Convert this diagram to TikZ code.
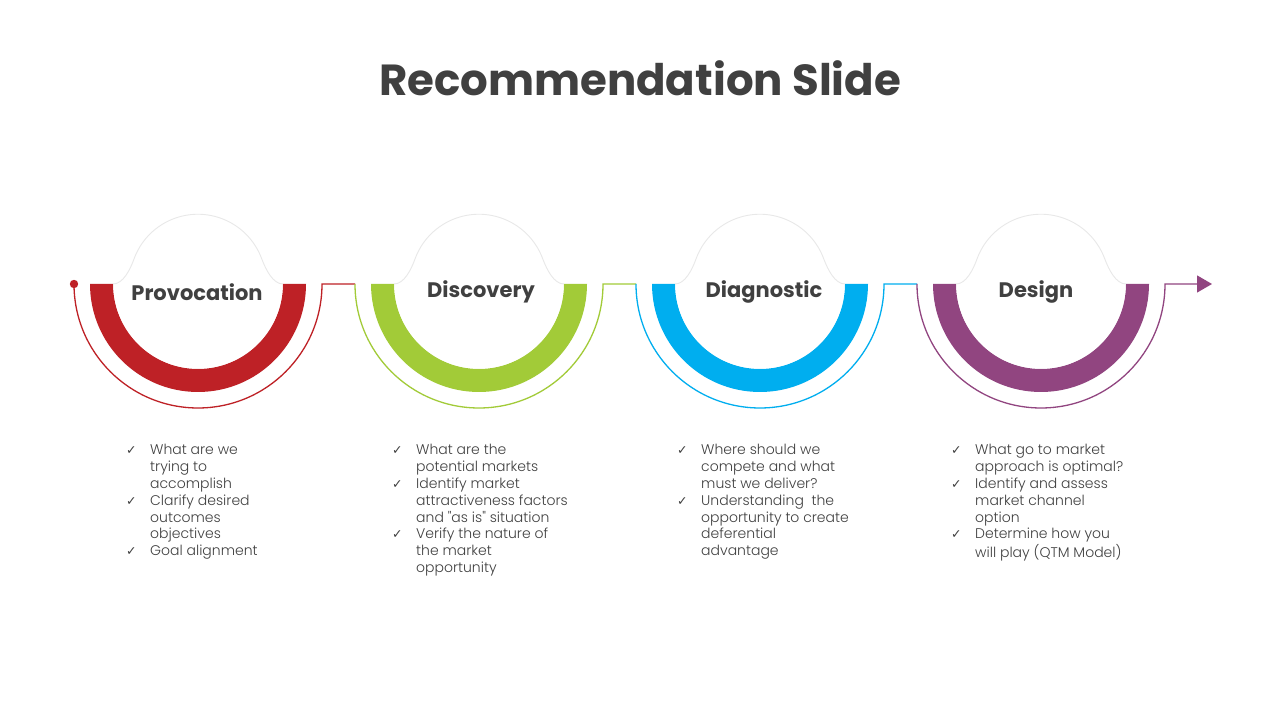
\documentclass[tikz,border=0pt]{standalone}
\usepackage{fontspec}
\setmainfont{Poppins}
\newfontfamily\lightfont{Poppins Light}
\newfontfamily\symfont{DejaVu Sans}
\usetikzlibrary{arrows.meta}
\definecolor{cred}{HTML}{BE2126}
\definecolor{cgreen}{HTML}{A2CB38}
\definecolor{cblue}{HTML}{00AEEF}
\definecolor{cpurple}{HTML}{914580}
\definecolor{ctext}{HTML}{404040}
\newcommand{\tk}{{\symfont\fontsize{12.5}{14}\selectfont ✓}}
\tikzset{
  band/.style={fill=#1, draw=none},
  dome/.style={fill=white, draw=black!9, line width=0.9pt},
  thinline/.style={draw=#1, line width=1.3pt},
  steplabel/.style={font=\bfseries\fontsize{21}{25}\selectfont, text=ctext},
  bullets/.style={anchor=north west, inner sep=0pt, text=ctext,
    font=\lightfont\fontsize{14}{16.8}\selectfont},
}
\newcommand{\stepshape}[3]{%
  % #1 name, #2 x centre, #3 colour
  \coordinate (#1) at (#2,436);
  \coordinate (#1L) at (#2-124,436);
  \coordinate (#1R) at (#2+124,436);
  \fill[band=#3] (#2-108,436) arc[start angle=180,end angle=360,radius=108]
     -- (#2+85,436) arc[start angle=360,end angle=180,radius=85] -- cycle;
  \fill[white] (#1) circle[radius=84.5];
  \path[dome] (#2-85,436) .. controls (#2-75,436) and (#2-68,450) .. (#2-64,461)
     arc[start angle=160,end angle=20,radius=68]
     .. controls (#2+68,450) and (#2+75,436) .. (#2+85,436);
}
\newcommand{\bl}[1]{\makebox[24pt][l]{#1}}
\begin{document}
\begin{tikzpicture}[x=1pt,y=1pt]
\useasboundingbox (0,0) rectangle (1280,720);
\fill[white] (0,0) rectangle (1280,720);

\node[font=\bfseries\fontsize{43.5}{52}\selectfont, text=ctext] (title) at (640,642) {Recommendation Slide};

\stepshape{c1}{198}{cred}
\stepshape{c2}{479}{cgreen}
\stepshape{c3}{760}{cblue}
\stepshape{c4}{1041}{cpurple}

\coordinate (tip) at (1212,436);
\fill[cred] (c1L) circle[radius=4.2];
\draw[thinline=cred] (c1L) arc[start angle=180,end angle=360,radius=124] -- (c2L);
\draw[thinline=cgreen] (c2L) arc[start angle=180,end angle=360,radius=124] -- (c3L);
\draw[thinline=cblue] (c3L) arc[start angle=180,end angle=360,radius=124] -- (c4L);
\draw[thinline=cpurple, -{Triangle[length=15pt,width=17pt]}] (c4L) arc[start angle=180,end angle=360,radius=124] -- (tip);

\node[steplabel] (t1) at (197,428) {Provocation};
\node[steplabel] (t2) at (481,428) {Discovery};
\node[steplabel] (t3) at (764,428) {Diagnostic};
\node[steplabel] (t4) at (1036,428) {Design};

\node[bullets] (b1) at (126,277) {\begin{tabular}{@{}l@{}}
\bl{\tk}What are we\\
\bl{}trying to\\
\bl{}accomplish\\
\bl{\tk}Clarify desired\\
\bl{}outcomes\\
\bl{}objectives\\
\bl{\tk}Goal alignment
\end{tabular}};

\node[bullets] (b2) at (392,277) {\begin{tabular}{@{}l@{}}
\bl{\tk}What are the\\
\bl{}potential markets\\
\bl{\tk}Identify market\\
\bl{}attractiveness factors\\
\bl{}and \char34 as is\char34{} situation\\
\bl{\tk}Verify the nature of\\
\bl{}the market\\
\bl{}opportunity
\end{tabular}};

\node[bullets] (b3) at (677,277) {\begin{tabular}{@{}l@{}}
\bl{\tk}Where should we\\
\bl{}compete and what\\
\bl{}must we deliver?\\
\bl{\tk}Understanding\ \ the\\
\bl{}opportunity to create\\
\bl{}deferential\\
\bl{}advantage
\end{tabular}};

\node[bullets] (b4) at (951,277) {\begin{tabular}{@{}l@{}}
\bl{\tk}What go to market\\
\bl{}approach is optimal?\\
\bl{\tk}Identify and assess\\
\bl{}market channel\\
\bl{}option\\
\bl{\tk}Determine how you\\
\bl{}will play (QTM Model)
\end{tabular}};
\end{tikzpicture}
\end{document}
